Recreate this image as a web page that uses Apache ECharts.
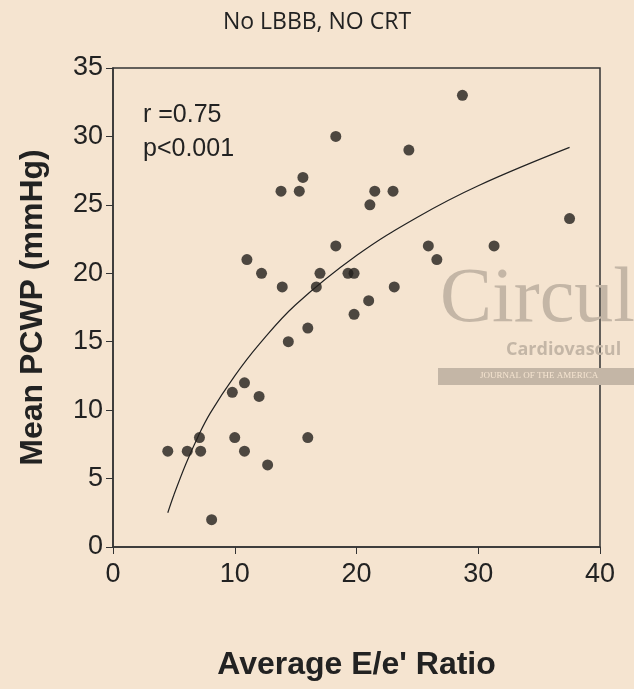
<!DOCTYPE html>
<html><head><meta charset="utf-8">
<script src="https://cdn.jsdelivr.net/npm/echarts@6/dist/echarts.min.js"></script>
<style>html,body{margin:0;padding:0;background:#f5e4d0}#c{width:634px;height:689px}</style>
</head><body><div id="c"></div>
<script>
const ratioX = [4.5,6.1,7.1,7.2,8.1,9.8,10.0,10.8,10.8,11.0,12.0,12.2,12.7,13.8,13.9,14.4,15.3,15.6,16.0,16.0,16.7,17.0,18.3,18.3,19.3,19.8,19.8,21.0,21.1,21.5,23.0,23.1,24.3,25.9,26.6,28.7,31.3,37.5];
const pcwpY  = [7,7,8,7,2,11.3,8,7,12,21,11,20,6,26,19,15,26,27,8,16,19,20,30,22,20,20,17,18,25,26,26,19,29,22,21,33,22,24];
const fitX = [4.5,5,6,7,8,10,12,15,20,25,30,37.5];
const fitY = [2.5,3.8,6.1,8.1,9.8,12.5,14.8,17.7,21.3,24.1,26.4,29.2];
const xTicks = [0,10,20,30,40];
const yTicks = [0,5,10,15,20,25,30,35];
const nf = "'Liberation Sans Narrow','Liberation Sans',Arial,sans-serif";
const ch = echarts.init(document.getElementById('c'));
ch.setOption({
  backgroundColor:'#f5e4d0', animation:false,
  title:{text:'No LBBB, NO CRT',left:'center',top:6,textStyle:{fontFamily:'Open Sans, sans-serif',fontSize:23,fontWeight:'normal',color:'#222'}},
  grid:{left:113,right:34,top:68,bottom:142,show:true,borderColor:'#333',borderWidth:1.5},
  xAxis:{type:'value',min:xTicks[0],max:xTicks[xTicks.length-1],interval:10,
    axisLine:{lineStyle:{color:'#333',width:1.5}},axisTick:{length:7,lineStyle:{color:'#333'}},
    splitLine:{show:false},axisLabel:{fontFamily:nf,fontSize:27,color:'#222',margin:14},
    name:"Average E/e' Ratio",nameLocation:'middle',nameGap:102,
    nameTextStyle:{fontFamily:nf,fontSize:32,fontWeight:'bold',color:'#222'}},
  yAxis:{type:'value',min:yTicks[0],max:yTicks[yTicks.length-1],interval:5,
    axisLine:{lineStyle:{color:'#333',width:1.5}},axisTick:{length:7,lineStyle:{color:'#333'}},
    splitLine:{show:false},axisLabel:{fontFamily:nf,fontSize:27,color:'#222',margin:10},
    name:'Mean PCWP (mmHg)',nameLocation:'middle',nameGap:64,
    nameTextStyle:{fontFamily:'Liberation Sans, Arial, sans-serif',fontSize:32,fontWeight:'bold',color:'#222'}},
  graphic:[
    {type:'text',left:440,top:262,silent:true,style:{text:'Circul',font:'78px "Liberation Serif", serif',fill:'#c4b6a6'}},
    {type:'text',left:506,top:341,silent:true,style:{text:'Cardiovascul',font:'bold 18px "Open Sans", sans-serif',fill:'#c4b6a6'}},
    {type:'rect',shape:{x:438,y:368,width:196,height:17},style:{fill:'#c4b6a6'},silent:true},
    {type:'text',left:480,top:371,silent:true,style:{text:'JOURNAL OF THE AMERICA',font:'9px "Liberation Serif", serif',fill:'#f5e4d0'}},
    {type:'text',left:143,top:98,silent:true,style:{text:'r =0.75\np<0.001',font:'25px '+nf,fill:'#222',lineHeight:34}}
  ],
  series:[
    {type:'line',data:fitX.map((x,i)=>[x,fitY[i]]),smooth:0.4,symbol:'none',lineStyle:{color:'#222',width:1.2},z:2},
    {type:'scatter',data:ratioX.map((x,i)=>[x,pcwpY[i]]),symbol:'circle',symbolSize:11,itemStyle:{color:'#231f1c'},z:3}
  ]
});
</script></body></html>
